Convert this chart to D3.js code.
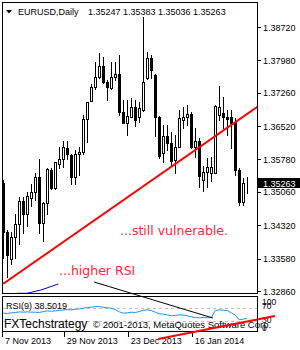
<!DOCTYPE html>
<html>
<head>
<meta charset="utf-8">
<script src="https://cdn.jsdelivr.net/npm/d3@7"></script>
<style>
  body { margin: 0; background: #fff; }
  svg { display: block; }
  text { font-family: "Liberation Sans", Arial, sans-serif; }
</style>
</head>
<body>
<svg id="chart" width="300" height="350"></svg>
<script>
// EURUSD daily, 7 Nov 2013 .. 4 Feb 2014
var opens = [1.3526, 1.3418, 1.3356, 1.3405, 1.3435, 1.3486, 1.3458, 1.3492, 1.3505, 1.3538,
  1.3438, 1.3481, 1.3555, 1.3515, 1.3569, 1.3579, 1.3603, 1.3588, 1.3540, 1.3589,
  1.3594, 1.3667, 1.3708, 1.3738, 1.3760, 1.3785, 1.3751, 1.3736, 1.3762, 1.3768,
  1.3684, 1.3660, 1.3673, 1.3695, 1.3673, 1.3688, 1.3758, 1.3803, 1.3765, 1.3672,
  1.3593, 1.3629, 1.3614, 1.3577, 1.3606, 1.3666, 1.3672, 1.3679, 1.3605, 1.3620,
  1.3532, 1.3551, 1.3547, 1.3547, 1.3677, 1.3682, 1.3672, 1.3672, 1.3662, 1.3555,
  1.3484, 1.35247];
var highs = [1.3532, 1.3421, 1.3417, 1.3457, 1.3495, 1.3495, 1.3506, 1.3524, 1.3549, 1.3579,
  1.3484, 1.3558, 1.3558, 1.3573, 1.3605, 1.3620, 1.3620, 1.3590, 1.3599, 1.3605,
  1.3677, 1.3706, 1.3746, 1.3795, 1.3814, 1.3806, 1.3754, 1.3795, 1.3794, 1.3810,
  1.3710, 1.3710, 1.3715, 1.3710, 1.3706, 1.3894, 1.3817, 1.3810, 1.3768, 1.3674,
  1.3654, 1.3654, 1.3639, 1.3632, 1.3688, 1.3694, 1.3699, 1.3684, 1.3647, 1.3625,
  1.3563, 1.3581, 1.3583, 1.3699, 1.3740, 1.3717, 1.3688, 1.3688, 1.3670, 1.3559,
  1.3536, 1.35383];
var lows = [1.3360, 1.3318, 1.3346, 1.3359, 1.3390, 1.3414, 1.3431, 1.3475, 1.3488, 1.3414,
  1.3398, 1.3458, 1.3512, 1.3512, 1.3558, 1.3562, 1.3578, 1.3524, 1.3524, 1.3543,
  1.3589, 1.3617, 1.3708, 1.3734, 1.3759, 1.3748, 1.3710, 1.3734, 1.3754, 1.3677,
  1.3658, 1.3632, 1.3672, 1.3652, 1.3662, 1.3686, 1.3757, 1.3758, 1.3629, 1.3581,
  1.3572, 1.3599, 1.3564, 1.3547, 1.3606, 1.3647, 1.3654, 1.3603, 1.3584, 1.3516,
  1.3509, 1.3516, 1.3531, 1.3547, 1.3666, 1.3647, 1.3632, 1.3603, 1.3543, 1.3477,
  1.3477, 1.35036];
var closes = [1.3418, 1.3367, 1.3405, 1.3435, 1.3486, 1.3458, 1.3497, 1.3505, 1.3540, 1.3438,
  1.3481, 1.3557, 1.3514, 1.3572, 1.3579, 1.3605, 1.3590, 1.3540, 1.3589, 1.3594,
  1.3667, 1.3705, 1.3738, 1.3760, 1.3785, 1.3751, 1.3738, 1.3762, 1.3768, 1.3684,
  1.3660, 1.3674, 1.3695, 1.3666, 1.3692, 1.3751, 1.3803, 1.3777, 1.3672, 1.3586,
  1.3629, 1.3614, 1.3575, 1.3606, 1.3669, 1.3673, 1.3679, 1.3605, 1.3620, 1.3541,
  1.3551, 1.3561, 1.3562, 1.3697, 1.3695, 1.3672, 1.3667, 1.3660, 1.3555, 1.3484,
  1.3525, 1.35263];
var rsi = [54, 53, 55, 56, 58, 57, 58, 57, 57, 56,
  59, 61, 60, 61, 62, 64, 65, 64, 66, 67,
  69, 71, 72, 74, 74, 72, 70, 69, 65, 58,
  54, 55, 57, 56, 59, 63, 64, 62, 57, 52,
  51, 49, 46, 47, 49, 48, 46, 43, 41, 40,
  41, 40, 41, 62, 64, 63, 62, 55, 48, 34,
  36, 38.5019];

var priceTicks = [1.3872, 1.3798, 1.3726, 1.3652, 1.3578, 1.3506, 1.3432, 1.3358, 1.3286];
var rsiTicks = [100, 70, 30, 0];
var rsiLevels = [70, 30];
var dateTickIdx = [0, 16, 32, 48];
var dateTickLabels = ["7 Nov 2013", "29 Nov 2013", "23 Dec 2013", "16 Jan 2014"];

// drawn lines, [bar index, price]
var trendUp = [[0, 1.3302], [63.5, 1.3695]];
var blueLine = [[3.4, 1.32809], [5.9, 1.32809], [9.4, 1.32882], [13.75, 1.33015]];
var blackLine = [[22.7, 1.33059], [52.4, 1.3226]];
var redLow = [[38.7, 1.31794], [67.9, 1.32304]];

var svg = d3.select("#chart");
var n = closes.length;
var last = n - 1;

var x = d3.scaleLinear().domain([0, n - 1]).range([3.3, 247.3]);
var y = d3.scaleLinear().domain([1.3286, 1.3872]).range([291, 27]);
var yr = d3.scaleLinear().domain([0, 100]).range([331, 298]);

var bars = d3.range(n).map(function (i) {
  return { i: i, o: opens[i], h: highs[i], l: lows[i], c: closes[i] };
});

svg.append("rect").attr("width", 300).attr("height", 350).attr("fill", "#fff");

svg.append("clipPath").attr("id", "mainClip")
  .append("rect").attr("x", 3).attr("y", 3).attr("width", 254).attr("height", 290);
svg.append("clipPath").attr("id", "rsiClip")
  .append("rect").attr("x", 3).attr("y", 297).attr("width", 254).attr("height", 35);

var main = svg.append("g").attr("clip-path", "url(#mainClip)");

// candles
var cg = main.append("g").attr("shape-rendering", "crispEdges");
cg.selectAll("line")
  .data(bars)
  .enter()
  .append("line")
  .attr("x1", (d) => Math.round(x(d.i)) + 0.5)
  .attr("x2", (d) => Math.round(x(d.i)) + 0.5)
  .attr("y1", (d) => Math.round(y(d.h)))
  .attr("y2", (d) => Math.round(y(d.l)) + 1)
  .attr("stroke", "#000");
cg.selectAll("rect")
  .data(bars)
  .enter()
  .append("rect")
  .attr("x", (d) => Math.round(x(d.i)) - 0.5)
  .attr("y", (d) => Math.round(y(Math.max(d.o, d.c))) + 0.5)
  .attr("width", 2)
  .attr("height", (d) => Math.max(0, Math.round(y(Math.min(d.o, d.c))) - Math.round(y(Math.max(d.o, d.c)))))
  .attr("fill", (d) => (d.c >= d.o ? "#fff" : "#000"))
  .attr("stroke", "#000");

var line = d3.line().x((d) => x(d[0])).y((d) => y(d[1]));

main.append("path")
  .attr("d", line(trendUp))
  .attr("fill", "none")
  .attr("stroke", "#ff0000")
  .attr("stroke-width", 2);

main.append("path")
  .attr("d", line(blueLine))
  .attr("fill", "none")
  .attr("stroke", "#0000dd")
  .attr("stroke-width", 1);

// frames
svg.append("rect")
  .attr("x", 2.5).attr("y", 2.5).attr("width", 254.5).attr("height", 290.5)
  .attr("fill", "none").attr("stroke", "#000").attr("shape-rendering", "crispEdges");
svg.append("rect")
  .attr("x", 2.5).attr("y", 296.5).attr("width", 254.5).attr("height", 35)
  .attr("fill", "none").attr("stroke", "#000").attr("shape-rendering", "crispEdges");

// price axis
var pa = svg.append("g");
pa.selectAll("line")
  .data(priceTicks)
  .enter()
  .append("line")
  .attr("x1", 257).attr("x2", 261)
  .attr("y1", (d) => Math.round(y(d)) + 0.5)
  .attr("y2", (d) => Math.round(y(d)) + 0.5)
  .attr("stroke", "#000")
  .attr("shape-rendering", "crispEdges");
pa.selectAll("text")
  .data(priceTicks)
  .enter()
  .append("text")
  .attr("x", 263)
  .attr("y", (d) => y(d) + 3.5)
  .style("font-size", "9px")
  .text((d) => d.toFixed(5));

// current price box
var yc = Math.round(y(closes[last]));
svg.append("rect").attr("x", 258).attr("y", yc - 5).attr("width", 42).attr("height", 10).attr("fill", "#000");
svg.append("line").attr("x1", 257).attr("x2", 261).attr("y1", yc + 0.5).attr("y2", yc + 0.5)
  .attr("stroke", "#000").attr("shape-rendering", "crispEdges");
svg.append("text").attr("x", 263).attr("y", yc + 3.5).attr("fill", "#fff")
  .style("font-size", "9px").text(closes[last].toFixed(5));

// header
svg.append("path").attr("d", "M6,10 L12,10 L9,13.5 Z").attr("fill", "#000");
svg.append("text").attr("x", 18).attr("y", 15).style("font-size", "9px").text("EURUSD,Daily");
svg.append("text").attr("x", 88).attr("y", 15).style("font-size", "9px")
  .text([opens[last], highs[last], lows[last], closes[last]].map((v) => v.toFixed(5)).join(" "));

// RSI panel
var rg = svg.append("g").attr("clip-path", "url(#rsiClip)");
rg.selectAll("line")
  .data(rsiLevels)
  .enter()
  .append("line")
  .attr("x1", 3).attr("x2", 257)
  .attr("y1", (d) => Math.round(yr(d)) + 0.5)
  .attr("y2", (d) => Math.round(yr(d)) + 0.5)
  .attr("stroke", "#c0c0c0")
  .attr("stroke-dasharray", "3,3")
  .attr("shape-rendering", "crispEdges");
rg.append("path")
  .attr("d", d3.line().x((d, i) => x(i)).y((d) => yr(d))(rsi))
  .attr("fill", "none")
  .attr("stroke", "#1e90ff")
  .attr("stroke-width", 1);

svg.append("g").selectAll("text")
  .data(rsiTicks)
  .enter()
  .append("text")
  .attr("x", 262)
  .attr("y", (d) => Math.min(328, Math.max(301.5, yr(d) - 1.5)) + 3)
  .style("font-size", "8.5px")
  .text((d) => d);

svg.append("text").attr("x", 6).attr("y", 309).style("font-size", "9px")
  .text("RSI(9) " + rsi[last].toFixed(4));

// time axis
var ta = svg.append("g");
ta.selectAll("line")
  .data(dateTickIdx)
  .enter()
  .append("line")
  .attr("x1", (d) => Math.max(2.5, Math.round(x(d)) - 2.5))
  .attr("x2", (d) => Math.max(2.5, Math.round(x(d)) - 2.5))
  .attr("y1", 332).attr("y2", 337)
  .attr("stroke", "#000")
  .attr("shape-rendering", "crispEdges");
ta.selectAll("text")
  .data(dateTickIdx)
  .enter()
  .append("text")
  .attr("x", (d) => Math.max(5, x(d) - 0.5))
  .attr("y", 343.5)
  .style("font-size", "9px")
  .text((d, i) => dateTickLabels[i]);

// annotations
svg.append("path")
  .attr("d", line(blackLine))
  .attr("fill", "none")
  .attr("stroke", "#000")
  .attr("stroke-width", 1);

svg.append("text").attr("x", 120).attr("y", 235)
  .attr("fill", "#ff2638")
  .style("font-family", "'DejaVu Sans', sans-serif")
  .style("font-size", "12.5px")
  .text("...still vulnerable.");
svg.append("text").attr("x", 59).attr("y", 275)
  .attr("fill", "#ff2638")
  .style("font-family", "'DejaVu Sans', sans-serif")
  .style("font-size", "12.5px")
  .text("...higher RSI");

svg.append("text").attr("x", 4).attr("y", 328).style("font-size", "12px").text("FXTechstrategy");
svg.append("text").attr("x", 93).attr("y", 328).style("font-size", "9.5px")
  .text("© 2001-2013, MetaQuotes Software Corp.");

svg.append("path")
  .attr("d", line(redLow))
  .attr("fill", "none")
  .attr("stroke", "#ff0000")
  .attr("stroke-width", 2);
</script>
</body>
</html>
